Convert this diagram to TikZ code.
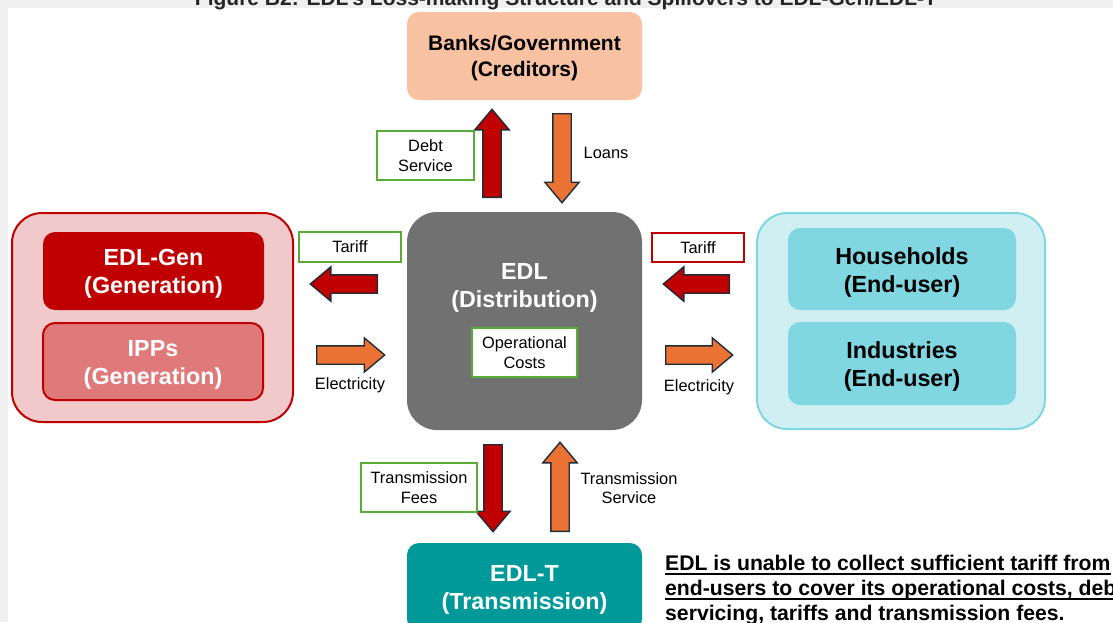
\documentclass[tikz,border=0pt]{standalone}
\usepackage{fontspec}
\setmainfont{Liberation Sans}
\usetikzlibrary{shapes.arrows}
\definecolor{bggray}{HTML}{F0F0F0}
\definecolor{peach}{HTML}{F8C1A2}
\definecolor{edlgray}{HTML}{717171}
\definecolor{teal2}{HTML}{009999}
\definecolor{darkred}{HTML}{C00000}
\definecolor{pinkfill}{HTML}{F2C9CB}
\definecolor{ippfill}{HTML}{E07A7A}
\definecolor{cyanfill}{HTML}{CFEFF3}
\definecolor{cyanline}{HTML}{7ED6E0}
\definecolor{cyanbox}{HTML}{80D7E1}
\definecolor{boxgreen}{HTML}{5AAC38}
\definecolor{arrorange}{HTML}{EA7333}
\definecolor{arrline}{HTML}{1F2D3A}
\begin{document}
\begin{tikzpicture}[x=1pt,y=-1pt,
  bigtxt/.style={font=\bfseries\fontsize{23.3}{28}\selectfont, align=center, yshift=-3pt},
  box/.style={rounded corners=12pt, inner sep=0pt, align=center},
  group/.style={rounded corners=30pt, line width=2pt, inner sep=0pt},
  lbl/.style={font=\fontsize{16.4}{19.5}\selectfont, align=center, inner sep=0pt},
  lblbox/.style={lbl, draw=boxgreen, line width=2pt, fill=white},
  blockarrow/.style={single arrow, draw=arrline, line width=1.4pt, anchor=tail,
     minimum width=33pt, single arrow head extend=8pt, single arrow tip angle=80},
  harrow/.style={blockarrow, inner xsep=0pt, inner ysep=8.5pt},
  varrow/.style={blockarrow, inner xsep=8.5pt, inner ysep=0pt},
  redfill/.style={fill=darkred},
  orfill/.style={fill=arrorange},
  note/.style={anchor=base west, font=\bfseries\fontsize{21.2}{25}\selectfont, inner sep=0pt},
  uline/.style={line width=1.6pt}
]
\useasboundingbox (0,0) rectangle (1113,622);
\clip (0,0) rectangle (1113,622);
\fill[bggray] (0,0) rectangle (1113,622);
\fill[white] (8,8) rectangle (1113,622);
\node[anchor=base, font=\bfseries\fontsize{21}{24}\selectfont, text=black!85, inner sep=0pt] (title) at (566,5) {Figure B2: EDL's Loss-making Structure and Spillovers to EDL-Gen/EDL-T};

% main boxes
\node[box, fill=peach, minimum width=235pt, minimum height=88pt,
      label={[font=\bfseries\fontsize{21}{26}\selectfont, align=center, yshift=-2pt]center:{Banks/Government\\(Creditors)}}] (banks) at (524.5,56) {};
\node[box, rounded corners=30pt, fill=edlgray, minimum width=235pt, minimum height=218pt] (edl) at (524.5,321) {};
\node[bigtxt, yshift=1pt, text=white] (edltxt) at (524.5,286) {EDL\\(Distribution)};
\node[lblbox, minimum width=105pt, minimum height=49pt] (opc) at (524.5,352.5) {Operational\\Costs};
\node[box, fill=teal2, minimum width=235pt, minimum height=88pt,
      label={[bigtxt, text=white]center:{EDL-T\\(Transmission)}}] (edlt) at (524.5,587) {};

% left group
\node[group, draw=darkred, fill=pinkfill, minimum width=281pt, minimum height=209pt] (gen) at (152.5,317.5) {};
\node[box, fill=darkred, minimum width=221pt, minimum height=78pt,
      label={[bigtxt, text=white]center:{EDL-Gen\\(Generation)}}] (edlgen) at (153.5,271) {};
\node[box, fill=ippfill, draw=darkred, line width=2pt, minimum width=220pt, minimum height=77pt,
      label={[bigtxt, text=white]center:{IPPs\\(Generation)}}] (ipp) at (153,361.5) {};

% right group
\node[group, draw=cyanline, fill=cyanfill, minimum width=288pt, minimum height=216pt] (users) at (901,321) {};
\node[box, fill=cyanbox, minimum width=228pt, minimum height=82pt,
      label={[bigtxt]center:{Households\\(End-user)}}] (house) at (902,269) {};
\node[box, fill=cyanbox, minimum width=228pt, minimum height=83pt,
      label={[bigtxt]center:{Industries\\(End-user)}}] (indus) at (902,363.5) {};

% arrows (placed by their tails)
\node[varrow, redfill, minimum height=88pt, shape border rotate=90] (debtarr) at (492,198) {};
\node[varrow, orfill, minimum height=89pt, shape border rotate=270] (loanarr) at (562,113) {};
\node[harrow, redfill, minimum height=67pt, shape border rotate=180] (tarLarr) at (378,284) {};
\node[harrow, orfill, minimum height=68pt, shape border rotate=0] (elecLarr) at (316,355) {};
\node[harrow, redfill, minimum height=66pt, shape border rotate=180] (tarRarr) at (730,284) {};
\node[harrow, orfill, minimum height=67pt, shape border rotate=0] (elecRarr) at (665,355) {};
\node[varrow, redfill, minimum height=87pt, shape border rotate=270] (feearr) at (493,444) {};
\node[varrow, orfill, minimum height=89pt, shape border rotate=90] (servarr) at (560,532) {};

% labels
\node[lblbox, minimum width=97pt, minimum height=49pt] (debt) at (425.5,155.5) {Debt\\Service};
\node[lbl] (loans) at (606,153) {Loans};
\node[lblbox, minimum width=102pt, minimum height=30pt] (tarL) at (350,247) {Tariff};
\node[lblbox, draw=darkred, minimum width=92pt, minimum height=29pt] (tarR) at (698,247.5) {Tariff};
\node[lbl] (elecL) at (350,385) {Electricity};
\node[lbl] (elecR) at (699,387) {Electricity};
\node[lblbox, minimum width=116pt, minimum height=49pt] (fees) at (419,487.5) {Transmission\\Fees};
\node[lbl] (serv) at (629,488) {Transmission\\Service};

% note
\node[note] (note1) at (665,570) {EDL is unable to collect sufficient tariff from};
\node[note] (note2) at (665,595) {end-users to cover its operational costs, debt};
\node[note] (note3) at (665,620) {servicing, tariffs and transmission fees.};
\draw[uline] ([yshift=-4pt]note1.base west) -- ([yshift=-4pt]note1.base east);
\draw[uline] ([yshift=-4pt]note2.base west) -- ([yshift=-4pt]note2.base east);
\draw[uline] ([yshift=-4pt]note3.base west) -- ([yshift=-4pt]note3.base east);
\end{tikzpicture}
\end{document}
